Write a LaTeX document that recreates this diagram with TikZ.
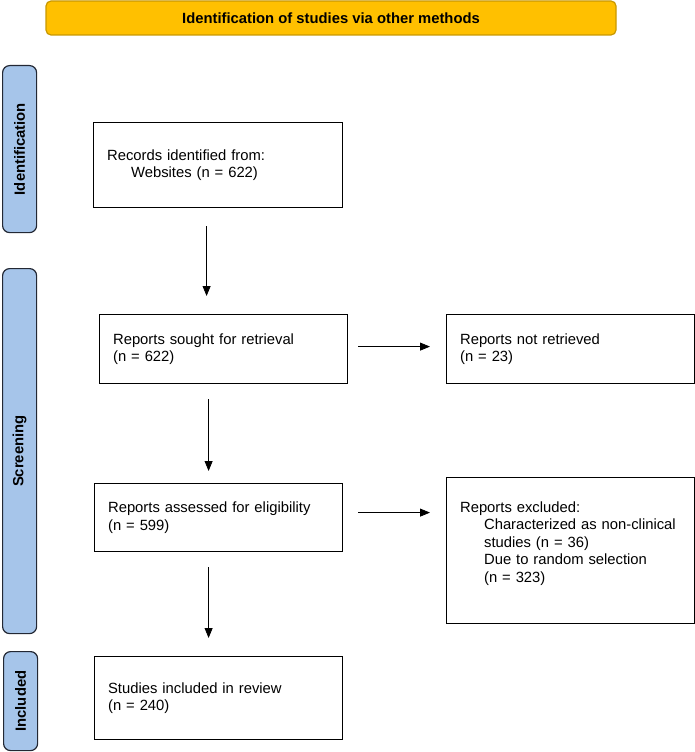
\documentclass[tikz,border=0pt]{standalone}
\usepackage{fontspec}
\setmainfont{Liberation Sans}
\usetikzlibrary{arrows.meta}

\definecolor{bannerfill}{RGB}{255,192,0}
\definecolor{bannerline}{RGB}{200,152,0}
\definecolor{phasefill}{RGB}{166,197,234}
\definecolor{phaseline}{RGB}{35,40,52}

\tikzset{
  banner/.style={draw=bannerline,fill=bannerfill,line width=1.2pt,rounded corners=5pt,
    minimum width=570pt,minimum height=34pt,font=\bfseries},
  phase/.style={draw=phaseline,fill=phasefill,line width=1.2pt,rounded corners=7pt,
    anchor=north west,minimum width=34pt},
  phaselabel/.style={rotate=90,font=\bfseries},
  stagebox/.style={draw,line width=1.2pt,anchor=north west,align=left,
    inner xsep=13.5pt,inner ysep=0pt},
  flow/.style={-{Triangle[length=10pt,width=8pt]},line width=0.8pt}
}

\begin{document}
\begin{tikzpicture}[x=1pt,y=-1pt]
\fontsize{14.8}{17.5}\selectfont
\useasboundingbox (0,0) rectangle (695,752);

% Banner
\node[banner] (banner) at (331,18) {Identification of studies via other methods};

% Phases
\node[phase,minimum height=167pt] (identbar) at (2,65) {};
\node[phase,minimum height=365pt] (screenbar) at (2,268) {};
\node[phase,minimum height=99pt] (inclbar) at (3,651) {};
\node[phaselabel] at (identbar.center) {Identification};
\node[phaselabel] at (screenbar.center) {Screening};
\node[phaselabel] at (inclbar.center) {Included};

% Boxes
\node[stagebox,text width=222pt,minimum height=85pt] (records) at (93,122)
  {Records identified from:\\\hspace*{24pt}Websites (n = 622)};
\node[stagebox,text width=221pt,minimum height=69pt] (sought) at (99,314)
  {Reports sought for retrieval\\(n = 622)};
\node[stagebox,text width=221pt,minimum height=69pt] (notret) at (446,314)
  {Reports not retrieved\\(n = 23)};
\node[stagebox,text width=221pt,minimum height=68pt] (assessed) at (94,483)
  {Reports assessed for eligibility\\(n = 599)};
\node[stagebox,text width=221pt,minimum height=146pt] (excluded) at (446,477)
  {Reports excluded:\\\hspace*{24pt}Characterized as non-clinical\\
   \hspace*{24pt}studies (n = 36)\\\hspace*{24pt}Due to random selection\\
   \hspace*{24pt}(n = 323)\\[-5pt]\strut};
\node[stagebox,text width=221pt,minimum height=83pt] (studies) at (94,656)
  {Studies included in review\\(n = 240)};

% Arrows
\draw[flow] ([xshift=-11.5pt,yshift=-18pt]records.south) -- ([xshift=-17pt,yshift=18pt]sought.north);
\draw[flow] ([xshift=-15pt,yshift=-15pt]sought.south) -- ([xshift=-10pt,yshift=12pt]assessed.north);
\draw[flow] ([xshift=-10pt,yshift=-15pt]assessed.south) -- ([xshift=-10pt,yshift=18pt]studies.north);
\draw[flow] ([xshift=10pt,yshift=2.5pt]sought.east) -- ([xshift=-16pt,yshift=2.5pt]notret.west);
\draw[flow] ([xshift=15pt,yshift=5pt]assessed.east) -- ([xshift=-16pt,yshift=38pt]excluded.west);

\end{tikzpicture}
\end{document}
